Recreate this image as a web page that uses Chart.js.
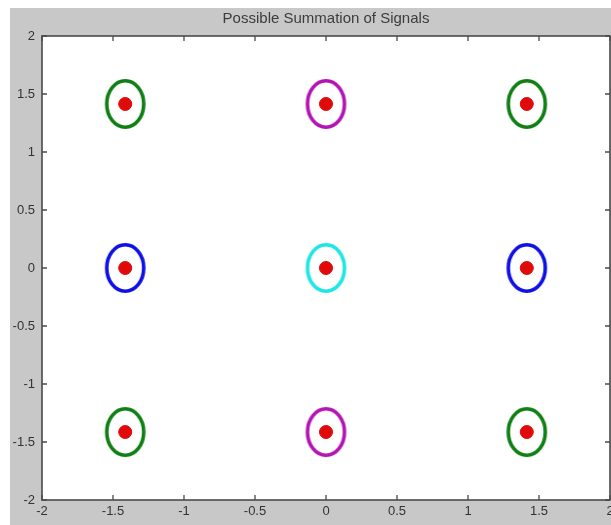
<!DOCTYPE html>
<html>
<head>
<meta charset="utf-8">
<title>Possible Summation of Signals</title>
<script src="https://cdn.jsdelivr.net/npm/chart.js@4.4.1/dist/chart.umd.min.js"></script>
<style>
  html, body { margin: 0; padding: 0; background: #fff; }
  #wrap { width: 611px; height: 525px; }
</style>
</head>
<body>
<div id="wrap"><canvas id="signalChart" width="611" height="525"></canvas></div>
<script>
// constellation points (sqrt(2) ~ 1.414)
const cornerX = [-1.414, 1.414, -1.414, 1.414];
const cornerY = [1.414, 1.414, -1.414, -1.414];
const verticalX = [0, 0];
const verticalY = [1.414, -1.414];
const horizontalX = [-1.414, 1.414];
const horizontalY = [0, 0];
const centerX = [0];
const centerY = [0];
const sumX = [-1.414, 0, 1.414, -1.414, 0, 1.414, -1.414, 0, 1.414];
const sumY = [1.414, 1.414, 1.414, 0, 0, 0, -1.414, -1.414, -1.414];

const tickValues = [-2, -1.5, -1, -0.5, 0, 0.5, 1, 1.5, 2];

function toPoints(xs, ys) {
  return xs.map((x, i) => ({ x: x, y: ys[i] }));
}

// oval ring used as a marker
function ringMarker(color) {
  const rx = 18.5, ry = 23.2, lw = 3.6;
  const c = document.createElement("canvas");
  c.width = Math.ceil(2 * rx + lw + 2);
  c.height = Math.ceil(2 * ry + lw + 2);
  const g = c.getContext("2d");
  g.strokeStyle = color;
  g.lineWidth = lw;
  g.beginPath();
  g.ellipse(c.width / 2, c.height / 2, rx, ry, 0, 0, Math.PI * 2);
  g.stroke();
  return c;
}

function ringSet(label, xs, ys, color) {
  return {
    label: label,
    data: toPoints(xs, ys),
    pointStyle: ringMarker(color),
    pointRadius: 20,
    pointHoverRadius: 20,
    showLine: false,
  };
}

const figureFrame = {
  id: "figureFrame",
  beforeDraw(chart) {
    const { ctx, chartArea: a, width, height } = chart;
    ctx.save();
    ctx.fillStyle = "#ffffff";
    ctx.fillRect(0, 0, width, height);
    ctx.fillStyle = "#c8c8c8";
    ctx.fillRect(10, 8, width - 10, height - 8);
    ctx.fillStyle = "#ffffff";
    ctx.fillRect(a.left, a.top, a.right - a.left, a.bottom - a.top);
    ctx.restore();
  },
  afterDraw(chart) {
    const { ctx, chartArea: a } = chart;
    const xs = chart.scales.x;
    const ys = chart.scales.y;
    ctx.save();
    ctx.strokeStyle = "#4a4a4a";
    ctx.lineWidth = 1.6;
    ctx.strokeRect(a.left, a.top, a.right - a.left, a.bottom - a.top);
    ctx.lineWidth = 1.3;
    ctx.beginPath();
    xs.ticks.forEach((t) => {
      const px = xs.getPixelForValue(t.value);
      ctx.moveTo(px, a.bottom);
      ctx.lineTo(px, a.bottom - 5);
      ctx.moveTo(px, a.top);
      ctx.lineTo(px, a.top + 5);
    });
    ys.ticks.forEach((t) => {
      const py = ys.getPixelForValue(t.value);
      ctx.moveTo(a.left, py);
      ctx.lineTo(a.left + 5, py);
      ctx.moveTo(a.right, py);
      ctx.lineTo(a.right - 5, py);
    });
    ctx.stroke();

    ctx.fillStyle = "#3c3c3c";
    ctx.font = "15px 'Liberation Sans', Arial, sans-serif";
    ctx.textAlign = "center";
    ctx.textBaseline = "middle";
    ctx.fillText("Possible Summation of Signals", (a.left + a.right) / 2, 19);
    ctx.restore();
  },
};

const tickFont = { family: "'Liberation Sans', Arial, sans-serif", size: 13 };

const config = {
  type: "scatter",
  data: {
    datasets: [
      {
        label: "Sum",
        data: toPoints(sumX, sumY),
        pointStyle: "circle",
        pointRadius: 6.5,
        pointHoverRadius: 6.5,
        backgroundColor: "#e00a0a",
        borderColor: "#e00a0a",
        borderWidth: 1,
        showLine: false,
      },
      ringSet("Corner", cornerX, cornerY, "#0f7f14"),
      ringSet("Vertical", verticalX, verticalY, "#b414b4"),
      ringSet("Horizontal", horizontalX, horizontalY, "#1010e6"),
      ringSet("Center", centerX, centerY, "#1ee6e6"),
    ],
  },
  options: {
    responsive: false,
    animation: false,
    events: [],
    layout: {
      autoPadding: false,
      padding: { left: 10, top: 36, right: 1, bottom: 0 },
    },
    plugins: {
      legend: { display: false },
      tooltip: { enabled: false },
      title: { display: false },
    },
    scales: {
      x: {
        type: "linear",
        min: -2,
        max: 2,
        afterBuildTicks: (scale) => {
          scale.ticks = tickValues.map((v) => ({ value: v }));
        },
        afterFit: (scale) => {
          scale.height = 25;
          scale.paddingLeft = 0;
          scale.paddingRight = 0;
        },
        ticks: {
          padding: 4,
          color: "#333333",
          font: tickFont,
          maxRotation: 0,
          autoSkip: false,
          callback: (v) => String(v),
        },
        grid: { display: false, drawTicks: false },
        border: { display: false },
      },
      y: {
        type: "linear",
        min: -2,
        max: 2,
        afterBuildTicks: (scale) => {
          scale.ticks = tickValues.map((v) => ({ value: v }));
        },
        afterFit: (scale) => {
          scale.width = 32;
          scale.paddingTop = 0;
          scale.paddingBottom = 0;
        },
        ticks: {
          padding: 7,
          color: "#333333",
          font: tickFont,
          autoSkip: false,
          callback: (v) => String(v),
        },
        grid: { display: false, drawTicks: false },
        border: { display: false },
      },
    },
  },
  plugins: [figureFrame],
};

new Chart(document.getElementById("signalChart").getContext("2d"), config);
</script>
</body>
</html>
